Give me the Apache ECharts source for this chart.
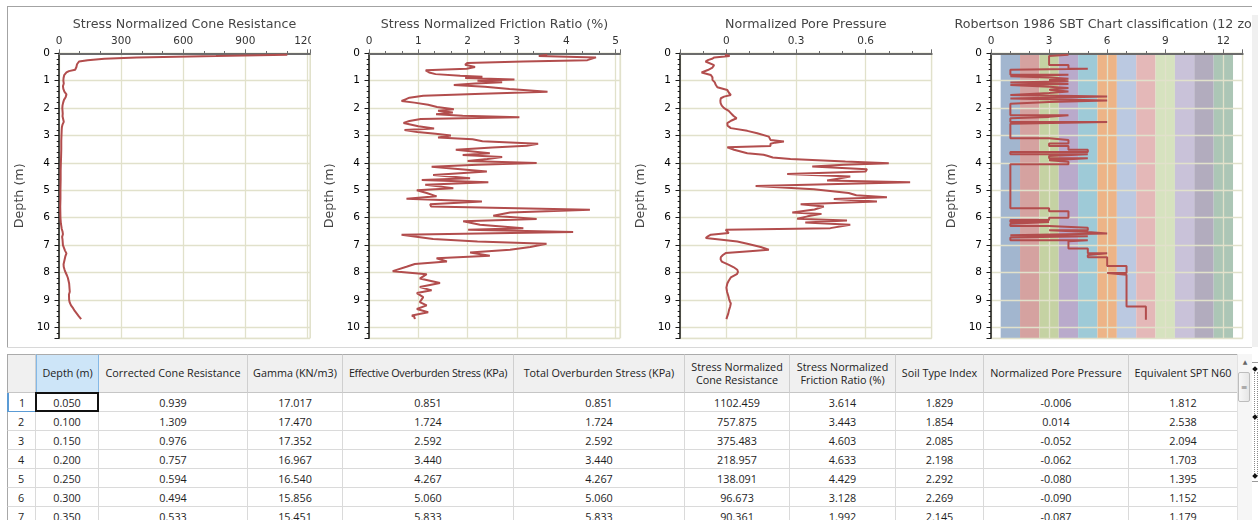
<!DOCTYPE html>
<html>
<head>
<meta charset="utf-8">
<script src="https://cdn.jsdelivr.net/npm/echarts@6.0.0/dist/echarts.min.js"></script>
<style>
  html, body { margin:0; padding:0; background:#fff; width:1258px; height:520px; overflow:hidden; position:relative; }
  .abs { position:absolute; }
  #frame { left:7px; top:6px; width:1245px; height:341px; border-left:1px solid #a3a3a3; border-top:1px solid #a3a3a3; box-sizing:border-box; }
  #strip { left:1252px; top:15px; width:6px; height:332px; background:#f0f0f0; }
  #splitter { left:7px; top:347px; width:1245px; height:1px; background:#d8d8d8; }
  .panel { top:0; height:347px; overflow:hidden; }
  .cell { position:absolute; box-sizing:border-box; display:flex; align-items:center; justify-content:center; text-align:center; white-space:pre-line; font-family:"Open Sans"; font-size:10.8px; color:#1e1e1e; overflow:hidden; }
  .th { background:#f0f0f0; border-top:1px solid #ababab; border-bottom:1px solid #c6c6c6; border-right:1px solid #cfcfcf; line-height:12.5px; color:#222; }
  .td { background:#fff; border-bottom:1px solid #dadada; border-right:1px solid #dadada; }
  .rn { justify-content:flex-start; padding-left:10px; border-left:1px solid #a8a8a8; }
  #scroll { left:1237px; top:354px; width:15px; height:166px; background:#f6f6f6; border-left:1px solid #e2e2e2; box-sizing:border-box; }
  #thumb { left:1238px; top:372px; width:12px; height:30px; box-sizing:border-box; border:1px solid #bdbdbd; border-radius:2px; background:linear-gradient(to right,#f7f7f7,#e6e6e6); font-size:8px; color:#777; display:flex; align-items:center; justify-content:center; font-family:"DejaVu Sans"; }
  #arrow { left:1240px; top:358px; width:10px; height:8px; font-size:6px; color:#666; text-align:center; font-family:"DejaVu Sans"; }
  #dock { left:1252px; top:362px; width:6px; height:120px; border-top:1px solid #9a9a9a; border-bottom:1px solid #9a9a9a; box-sizing:border-box; }
  .dot { width:1px; border-left:1px dotted #8a8a8a; }
  .dia { width:4px; height:4px; background:#111; transform:rotate(45deg); }
</style>
</head>
<body>
<div id="frame" class="abs"></div>
<div id="strip" class="abs"></div>
<div id="splitter" class="abs"></div>
<div id="p1" class="abs panel" style="left:8px;width:303px;"></div>
<div id="p2" class="abs panel" style="left:311px;width:311px;"></div>
<div id="p3" class="abs panel" style="left:622px;width:311px;"></div>
<div id="p4" class="abs panel" style="left:933px;width:318px;"></div>
<div id="table"></div>
<div id="scroll" class="abs"></div>
<div id="arrow" class="abs">▲</div>
<div id="thumb" class="abs">≡</div>
<div id="dock" class="abs"></div>
<div class="abs dot" style="left:1254px;top:372px;height:104px;"></div>
<div class="abs dot" style="left:1257px;top:372px;height:104px;"></div>
<div class="abs dia" style="left:1253px;top:367px;"></div>
<div class="abs dia" style="left:1253px;top:415px;"></div>
<div class="abs dia" style="left:1253px;top:474px;"></div>
<script>
// ---------------- DATA ----------------
// Stress Normalized Cone Resistance vs depth
const qtnDepth = [0.05,0.10,0.15,0.20,0.25,0.30,0.35,0.40,0.45,0.50,0.55,0.60,0.65,0.70,0.75,0.80,0.90,1.00,1.10,1.20,1.30,1.40,1.50,1.55,1.60,1.70,1.80,1.90,2.00,2.10,2.20,2.30,2.40,2.50,2.60,2.70,2.80,3.00,3.20,3.50,3.80,4.00,4.30,4.60,5.00,5.30,5.60,6.00,6.20,6.40,6.50,6.60,6.70,6.80,7.00,7.10,7.20,7.30,7.40,7.50,7.60,7.70,7.80,7.90,8.00,8.10,8.20,8.30,8.40,8.60,8.70,8.80,9.00,9.10,9.20,9.30,9.40,9.50,9.60,9.70];
const qtnValue = [1102.459,757.875,375.483,218.957,138.091,96.673,90.361,87,85,84,83,78,48,36,28,25,22,21,23,19,21,26,36,38,32,24,20,17,16,17,18,17,20,23,17,14,13,12,11,11,10,9,8,8,7,7,6,7,9,13,17,19,15,17,19,24,29,36,31,28,25,22,23,27,32,38,43,46,49,51,52,48,49,52,58,68,76,86,96,107];

// Stress Normalized Friction Ratio (%) vs depth
const frDepth = [0.05,0.10,0.15,0.20,0.25,0.30,0.35,0.42,0.50,0.56,0.62,0.70,0.76,0.82,0.86,0.90,0.96,1.00,1.06,1.10,1.16,1.22,1.30,1.40,1.48,1.55,1.62,1.68,1.74,1.80,1.88,1.96,2.04,2.10,2.16,2.22,2.28,2.33,2.40,2.47,2.54,2.60,2.66,2.74,2.80,2.87,2.94,3.00,3.07,3.14,3.21,3.30,3.37,3.44,3.52,3.59,3.65,3.71,3.78,3.86,3.93,4.00,4.07,4.14,4.22,4.31,4.44,4.56,4.62,4.71,4.80,4.92,5.00,5.10,5.22,5.31,5.41,5.51,5.59,5.71,5.81,5.93,6.05,6.13,6.26,6.38,6.44,6.52,6.62,6.78,6.87,6.95,7.07,7.17,7.27,7.39,7.48,7.60,7.69,7.79,7.95,8.06,8.22,8.38,8.53,8.65,8.75,8.90,9.08,9.20,9.33,9.45,9.57,9.62,9.70];
const frValue = [3.614,3.443,4.603,4.633,4.429,3.128,1.992,1.95,2.15,1.98,1.15,1.22,1.35,1.85,2.30,1.95,2.95,2.20,2.70,2.15,1.72,2.35,2.85,3.62,2.30,1.10,0.82,0.74,0.66,0.92,1.20,1.38,1.72,1.40,1.70,1.36,1.90,3.05,1.05,0.82,0.70,0.72,1.00,1.32,0.72,0.98,1.35,1.66,1.40,2.10,2.30,3.43,3.20,2.50,1.76,1.80,2.45,1.90,2.70,2.40,2.00,3.40,2.20,1.27,1.80,2.39,1.30,2.05,1.07,2.42,1.14,1.71,0.97,1.17,1.37,0.76,2.29,1.24,1.26,4.48,2.86,2.52,3.40,1.91,2.25,3.13,2.01,4.14,0.66,1.30,2.20,3.60,3.27,2.86,2.05,2.45,1.37,1.58,0.93,0.76,0.48,1.17,1.03,1.44,1.03,1.27,0.97,1.10,1.03,1.17,0.97,1.20,0.87,0.92,0.93];

// Normalized Pore Pressure vs depth
const bqDepth = [0.05,0.10,0.15,0.20,0.25,0.30,0.35,0.43,0.52,0.61,0.70,0.79,0.88,0.97,1.06,1.15,1.24,1.34,1.43,1.52,1.58,1.64,1.73,1.82,1.91,2.00,2.10,2.19,2.28,2.37,2.46,2.55,2.64,2.73,2.83,2.92,3.04,3.10,3.16,3.22,3.26,3.30,3.38,3.43,3.52,3.65,3.70,3.74,3.80,3.86,3.95,4.01,4.07,4.13,4.23,4.31,4.40,4.50,4.56,4.64,4.71,4.84,4.96,5.10,5.18,5.25,5.32,5.41,5.51,5.59,5.70,5.81,5.86,5.95,6.04,6.10,6.17,6.26,6.38,6.44,6.50,6.56,6.62,6.68,6.74,6.80,6.87,6.95,7.07,7.17,7.22,7.29,7.36,7.44,7.52,7.60,7.72,7.80,7.90,7.98,8.06,8.18,8.30,8.40,8.55,8.71,8.85,8.95,9.05,9.13,9.25,9.38,9.50,9.62,9.70];
const bqValue = [-0.006,0.014,-0.052,-0.062,-0.080,-0.090,-0.087,-0.053,-0.06,-0.08,-0.107,-0.067,-0.06,-0.06,-0.05,-0.046,-0.039,0.004,0.01,0.019,-0.01,-0.024,-0.026,-0.025,-0.02,-0.01,0.01,0.02,0.03,0.044,0.02,0.004,0.005,0.019,0.09,0.133,0.183,0.18,0.19,0.248,0.21,0.19,0.19,0.004,0.033,0.09,0.16,0.176,0.20,0.276,0.513,0.70,0.506,0.37,0.606,0.60,0.262,0.534,0.54,0.434,0.792,0.126,0.377,0.527,0.56,0.692,0.463,0.649,0.32,0.42,0.38,0.284,0.41,0.35,0.305,0.52,0.34,0.534,0.448,-0.003,0.0,0.01,-0.067,-0.08,-0.089,-0.02,0.047,0.09,0.148,0.183,0.10,-0.003,-0.015,-0.024,-0.025,-0.02,0.011,0.03,0.047,0.05,0.045,0.019,0.01,0.004,0.0,0.003,0.008,0.011,0.015,0.019,0.016,0.011,0.008,0.003,0.0];

// Robertson 1986 SBT zone vs depth (zone starting at each depth)
const sbtDepth = [0.05,0.10,0.43,0.56,0.60,0.78,0.84,0.88,0.93,0.97,1.02,1.07,1.12,1.16,1.22,1.27,1.33,1.39,1.45,1.52,1.58,1.65,1.72,1.78,1.84,2.26,2.32,2.37,2.51,2.57,3.10,3.16,3.29,3.38,3.52,3.60,3.68,3.75,3.83,3.90,3.96,4.05,5.65,5.76,6.00,6.08,6.16,6.22,6.30,6.37,6.46,6.52,6.58,6.64,6.68,6.72,6.82,6.86,7.12,7.30,7.36,7.44,7.76,8.02,8.08,9.24,9.72];
const sbtZone  = [4,3,4,5,1,4,1,3,4,3,4,1,4,1,3,4,3,4,3,1,6,1,6,3,1,4,3,1,6,1,3,4,3,4,5,1,5,3,5,3,4,1,3,4,3,1,3,1,3,5,3,5,6,1,5,1,5,4,5,6,5,6,7,6,7,8,8];
const zoneColors = ['#a2b6cf','#d5a2a0','#c5d2a3','#b9aacb','#9ecad7','#edb487','#bbc9e1','#e4b8b8','#d6e2bf','#c9c2d9','#b2acbe','#acc6b6'];

// Table
const tableHeaders = ['', 'Depth (m)', 'Corrected Cone Resistance', 'Gamma (KN/m3)', 'Effective Overburden Stress (KPa)', 'Total Overburden Stress (KPa)', 'Stress Normalized\nCone Resistance', 'Stress Normalized\nFriction Ratio (%)', 'Soil Type Index', 'Normalized Pore Pressure', 'Equivalent SPT N60'];
const rowNumbers = [1,2,3,4,5,6,7];
const depthCol = [0.050,0.100,0.150,0.200,0.250,0.300,0.350];
const coneCol  = [0.939,1.309,0.976,0.757,0.594,0.494,0.533];
const gammaCol = [17.017,17.470,17.352,16.967,16.540,15.856,15.451];
const effCol   = [0.851,1.724,2.592,3.440,4.267,5.060,5.833];
const totalCol = [0.851,1.724,2.592,3.440,4.267,5.060,5.833];
const qtnCol   = [1102.459,757.875,375.483,218.957,138.091,96.673,90.361];
const frCol    = [3.614,3.443,4.603,4.633,4.429,3.128,1.992];
const icCol    = [1.829,1.854,2.085,2.198,2.292,2.269,2.145];
const bqCol    = [-0.006,0.014,-0.052,-0.062,-0.080,-0.090,-0.087];
const n60Col   = [1.812,2.538,2.094,1.703,1.395,1.152,1.179];

// ---------------- CHARTS ----------------
const FONT = 'DejaVu Sans';
const LINE_COLOR = '#b24d4d';
const GRID_COLOR = '#e1e1cb';
const AXIS_COLOR = '#6b6b6b';

function pairs(xs, ys) { return xs.map((x, i) => [x, ys[i]]); }
function plainNum(v) { return String(v); }

function makeOption(p) {
  const plotW = p.width - p.left - p.right;
  const z = p.axisZ || 0;
  return {
    backgroundColor: 'transparent',
    animation: false,
    title: {
      text: p.title, left: p.left + plotW / 2, top: 18, textAlign: 'center', padding: 0,
      textStyle: { fontFamily: FONT, fontSize: 12.67, fontWeight: 'normal', color: '#464646' }
    },
    grid: { left: p.left, right: p.right, top: 53.3, bottom: 8.7, show: true, borderColor: '#dcdcc4', borderWidth: 1, backgroundColor: 'transparent', containLabel: false, outerBoundsMode: 'none' },
    xAxis: Object.assign({
      type: 'value', position: 'top', min: p.xMin, max: p.xMax, z: z,
      axisLine: { show: true, onZero: false, lineStyle: { color: AXIS_COLOR, width: 2 } },
      axisTick: { show: true, length: 4, lineStyle: { color: AXIS_COLOR, width: 1 } },
      minorTick: { show: true, splitNumber: 3, length: 2.3, lineStyle: { color: AXIS_COLOR, width: 1 } },
      axisLabel: { show: true, margin: 7, fontFamily: FONT, fontSize: 10.5, color: '#333', showMinLabel: p.showMinLabel, showMaxLabel: false, hideOverlap: false, formatter: plainNum },
      splitLine: { show: true, lineStyle: { color: GRID_COLOR, width: 1.3 } },
      minorSplitLine: { show: false }
    }, p.xExtra || {}),
    yAxis: {
      type: 'value', inverse: true, min: 0, max: 10.4, interval: 1, position: 'left', z: z,
      name: 'Depth (m)', nameLocation: 'middle', nameGap: 27,
      nameTextStyle: { fontFamily: FONT, fontSize: 12.67, color: '#444' },
      axisLine: { show: true, onZero: false, lineStyle: { color: '#1a1a1a', width: 1.5 } },
      axisTick: { show: true, length: 4.5, lineStyle: { color: '#1a1a1a', width: 1 } },
      minorTick: { show: true, splitNumber: 5, length: 2.3, lineStyle: { color: '#1a1a1a', width: 1 } },
      axisLabel: { show: true, margin: 9, fontFamily: FONT, fontSize: 10.5, color: '#000', showMinLabel: true, showMaxLabel: false, hideOverlap: false, formatter: plainNum },
      splitLine: { show: true, lineStyle: { color: GRID_COLOR, width: 1.3 } },
      minorSplitLine: { show: false }
    },
    series: p.series
  };
}

function lineSeries(xs, ys, extra) {
  return Object.assign({
    type: 'line', data: pairs(xs, ys), showSymbol: false, symbol: 'none', z: 3,
    lineStyle: { color: LINE_COLOR, width: 2 }, itemStyle: { color: LINE_COLOR }, clip: true
  }, extra || {});
}

const panels = [
  { id: 'p1', width: 303, left: 51, right: 1, title: 'Stress Normalized Cone Resistance', xMin: 0, xMax: 1212, xExtra: { interval: 300 }, showMinLabel: true,
    series: [lineSeries(qtnValue, qtnDepth)] },
  { id: 'p2', width: 311, left: 58, right: 2, title: 'Stress Normalized Friction Ratio (%)', xMin: 0, xMax: 5.09, xExtra: { interval: 1 }, showMinLabel: true,
    series: [lineSeries(frValue, frDepth)] },
  { id: 'p3', width: 311, left: 58, right: 1.3, title: 'Normalized Pore Pressure', xMin: -0.2, xMax: 0.885, xExtra: { splitNumber: 4 }, showMinLabel: false,
    series: [lineSeries(bqValue, bqDepth)] },
  { id: 'p4', width: 318, left: 58, right: 8.3, title: 'Robertson 1986 SBT Chart classification (12 zones)', xMin: 0, xMax: 13, xExtra: { interval: 3 }, showMinLabel: true, axisZ: 2,
    series: [lineSeries(sbtZone, sbtDepth, {
      step: 'start',
      markArea: {
        silent: true, z: 1,
        label: { show: false },
        itemStyle: { opacity: 1 },
        data: zoneColors.map((c, i) => [{ xAxis: i + 0.5, itemStyle: { color: c, opacity: 1 } }, { xAxis: i + 1.5 }])
      }
    })] }
];

panels.forEach(p => {
  const el = document.getElementById(p.id);
  const chart = echarts.init(el, null, { renderer: 'canvas', width: p.width, height: 347 });
  chart.setOption(makeOption(p));
});

// ---------------- TABLE ----------------
const COL_W = [29, 63, 149, 95, 171, 171, 105, 106, 88, 145, 109];
const TABLE_X = 7, HEAD_Y = 354, HEAD_H = 39, ROW_H = 19;
const tableColumns = [depthCol, coneCol, gammaCol, effCol, totalCol, qtnCol, frCol, icCol, bqCol, n60Col];
const tbl = document.getElementById('table');

function addCell(cls, x, y, w, h, text, style) {
  const d = document.createElement('div');
  d.className = 'cell ' + cls;
  d.style.left = x + 'px'; d.style.top = y + 'px';
  d.style.width = w + 'px'; d.style.height = h + 'px';
  d.textContent = text;
  if (style) Object.assign(d.style, style);
  tbl.appendChild(d);
  return d;
}

let x = TABLE_X;
tableHeaders.forEach((h, c) => {
  let st = null;
  if (c === 0) st = { borderLeft: '1px solid #a8a8a8' };
  if (c === 1) st = { background: '#cde5f8', borderRight: '1px solid #84b8e6', borderLeft: '1px solid #84b8e6', borderBottom: '1px solid #84b8e6' };
  if (c === 4) st = { letterSpacing: '-0.3px' };
  addCell('th', x, HEAD_Y, COL_W[c], HEAD_H, h, st);
  x += COL_W[c];
});

rowNumbers.forEach((n, r) => {
  const y = HEAD_Y + HEAD_H + r * ROW_H;
  let xx = TABLE_X;
  addCell('td rn', xx, y, COL_W[0], ROW_H, String(n), r === 0 ? { borderLeft: '2px solid #5b9bd5', borderBottom: '1px solid #5b9bd5' } : null);
  xx += COL_W[0];
  tableColumns.forEach((col, c) => {
    addCell('td', xx, y, COL_W[c + 1], ROW_H, col[r].toFixed(3));
    xx += COL_W[c + 1];
  });
});

// selected cell outline (row 1, Depth)
const sel = document.createElement('div');
sel.className = 'abs';
Object.assign(sel.style, { left: (TABLE_X + COL_W[0] - 1) + 'px', top: (HEAD_Y + HEAD_H - 1) + 'px', width: (COL_W[1] + 1) + 'px', height: (ROW_H + 1) + 'px', border: '2px solid #111', boxSizing: 'border-box' });
tbl.appendChild(sel);
</script>
</body>
</html>
